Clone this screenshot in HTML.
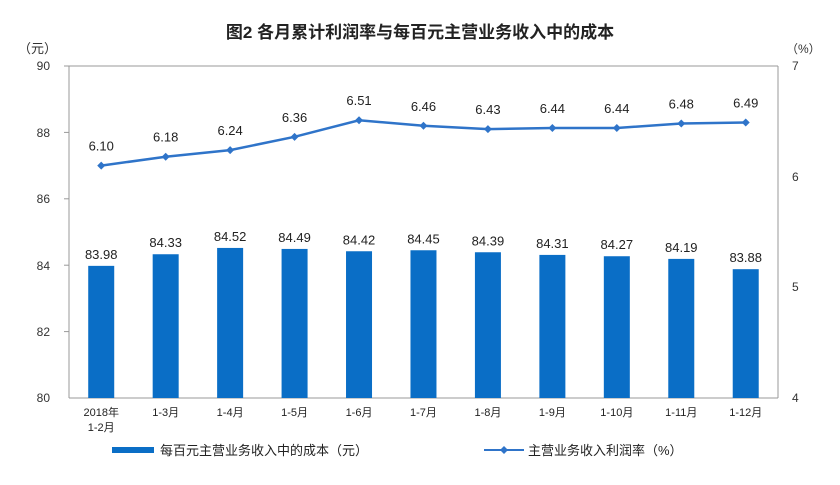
<!DOCTYPE html>
<html><head><meta charset="utf-8"><style>
body{margin:0;background:#fff}
svg text{font-family:"Liberation Sans","Noto Sans CJK SC",sans-serif}
</style></head><body>
<svg width="840" height="480" viewBox="0 0 840 480" xmlns="http://www.w3.org/2000/svg">
<text x="420" y="38" text-anchor="middle" font-size="17" font-weight="bold" fill="#222">图2  各月累计利润率与每百元主营业务收入中的成本</text>
<text x="18" y="53" font-size="13" fill="#333">（元）</text>
<text x="786" y="53" font-size="12" fill="#333">（%）</text>
<g font-size="12" fill="#333" text-anchor="end">
<text x="50" y="70">90</text><text x="50" y="137">88</text><text x="50" y="203">86</text><text x="50" y="270">84</text><text x="50" y="336">82</text><text x="50" y="402">80</text>
</g>
<g font-size="12" fill="#333">
<text x="792" y="70">7</text><text x="792" y="181">6</text><text x="792" y="291">5</text><text x="792" y="402">4</text>
</g>
<line x1="69" y1="66" x2="778" y2="66" stroke="#999"/>
<line x1="69" y1="66" x2="69" y2="398" stroke="#999"/>
<line x1="778" y1="66" x2="778" y2="398" stroke="#999"/>
<line x1="69" y1="398" x2="778" y2="398" stroke="#999"/>
<g stroke="#999"><line x1="64" y1="66" x2="69" y2="66"/><line x1="64" y1="132.4" x2="69" y2="132.4"/><line x1="64" y1="198.8" x2="69" y2="198.8"/><line x1="64" y1="265.2" x2="69" y2="265.2"/><line x1="64" y1="331.6" x2="69" y2="331.6"/></g>
<g fill="#0a6ec6" id="bars"></g>
<g id="lbl" font-size="13" fill="#222" text-anchor="middle"></g>
<polyline id="ln" fill="none" stroke="#2f74c9" stroke-width="2.5"/>
<g id="mk" fill="#2f74c9"></g>
<g id="xl" font-size="11" fill="#222" text-anchor="middle"></g>
<rect x="112" y="447" width="42" height="6" fill="#0a6ec6"/>
<text x="160" y="455" font-size="13" fill="#222">每百元主营业务收入中的成本（元）</text>
<line x1="484" y1="450" x2="524" y2="450" stroke="#2f74c9" stroke-width="2"/>
<path d="M504 446 L508 450 L504 454 L500 450Z" fill="#2f74c9"/>
<text x="528" y="455" font-size="13" fill="#222">主营业务收入利润率（%）</text>
</svg>
<script>
var c=[83.98,84.33,84.52,84.49,84.42,84.45,84.39,84.31,84.27,84.19,83.88];
var r=[6.10,6.18,6.24,6.36,6.51,6.46,6.43,6.44,6.44,6.48,6.49];
var x=["1-3月","1-4月","1-5月","1-6月","1-7月","1-8月","1-9月","1-10月","1-11月","1-12月"];
var ns="http://www.w3.org/2000/svg";
function el(t,a,p,tx){var e=document.createElementNS(ns,t);for(var k in a)e.setAttribute(k,a[k]);if(tx)e.textContent=tx;document.getElementById(p).appendChild(e);return e;}
var pts=[];
for(var i=0;i<11;i++){
 var cx=69+64.45*(i+0.5);
 var yb=398-(c[i]-80)*33.2;
 el("rect",{x:cx-13,y:yb,width:26,height:398-yb},"bars");
 el("text",{x:cx,y:yb-7},"lbl",c[i].toFixed(2));
 var yr=66+(7-r[i])*110.67;
 pts.push(cx+","+yr);
 el("path",{d:"M"+cx+" "+(yr-4)+"L"+(cx+4)+" "+yr+"L"+cx+" "+(yr+4)+"L"+(cx-4)+" "+yr+"Z"},"mk");
 el("text",{x:cx,y:yr-15},"lbl",r[i].toFixed(2));
 if(i==0){el("text",{x:cx,y:416},"xl","2018年");el("text",{x:cx,y:431},"xl","1-2月");}
 else el("text",{x:cx,y:416},"xl",x[i-1]);
}
document.getElementById("ln").setAttribute("points",pts.join(" "));
</script>
</body></html>
